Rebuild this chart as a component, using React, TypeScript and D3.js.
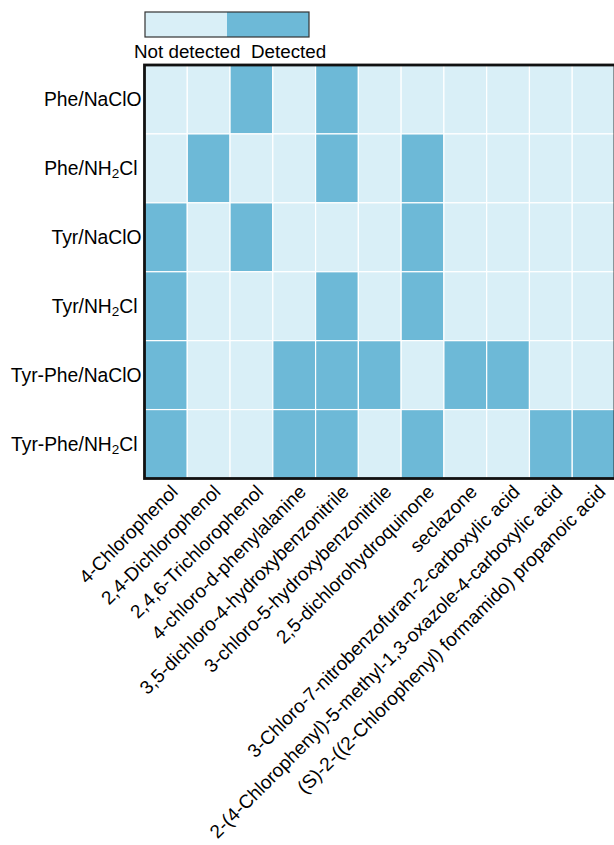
import React from "react";
import * as d3 from "d3";

const compounds: string[] = [
  "4-Chlorophenol",
  "2,4-Dichlorophenol",
  "2,4,6-Trichlorophenol",
  "4-chloro-d-phenylalanine",
  "3,5-dichloro-4-hydroxybenzonitrile",
  "3-chloro-5-hydroxybenzonitrile",
  "2,5-dichlorohydroquinone",
  "seclazone",
  "3-Chloro-7-nitrobenzofuran-2-carboxylic acid",
  "2-(4-Chlorophenyl)-5-methyl-1,3-oxazole-4-carboxylic acid",
  "(S)-2-((2-Chlorophenyl) formamido) propanoic acid",
];

const systems: string[] = [
  "Phe/NaClO",
  "Phe/NH2Cl",
  "Tyr/NaClO",
  "Tyr/NH2Cl",
  "Tyr-Phe/NaClO",
  "Tyr-Phe/NH2Cl",
];

// 1 = detected, 0 = not detected
const detection: number[][] = [
  [0, 0, 1, 0, 1, 0, 0, 0, 0, 0, 0],
  [0, 1, 0, 0, 1, 0, 1, 0, 0, 0, 0],
  [1, 0, 1, 0, 0, 0, 1, 0, 0, 0, 0],
  [1, 0, 0, 0, 1, 0, 1, 0, 0, 0, 0],
  [1, 0, 0, 1, 1, 1, 0, 1, 1, 0, 0],
  [1, 0, 0, 1, 1, 0, 1, 0, 0, 1, 1],
];

const legendLabels: string[] = ["Not detected", "Detected"];

const LIGHT = "#d9eff7";
const DARK = "#6db9d7";
const FONT = "'Liberation Sans', Arial, Helvetica, sans-serif";
const FS = 19.3;
const XFS = 19.0;
const LFS = 18.8;

function RowLabel({ label, x, y }: { label: string; x: number; y: number }) {
  const m = label.match(/^(.*NH)2(Cl)$/);
  if (m) {
    return (
      <text x={x - 4} y={y} textAnchor="end" dominantBaseline="central" fontSize={FS} fontFamily={FONT} fill="#000">
        {m[1]}
        <tspan fontSize={FS * 0.7} dy={5}>2</tspan>
        <tspan dy={-5}>{m[2]}</tspan>
      </text>
    );
  }
  return (
    <text x={x} y={y} textAnchor="end" dominantBaseline="central" fontSize={FS} fontFamily={FONT} fill="#000">
      {label}
    </text>
  );
}

export default function App() {
  const W = 614;
  const H = 845;
  const left = 144.5;
  const right = 615;
  const top = 65;
  const bottom = 478.5;

  const x = d3.scaleBand<string>().domain(compounds).range([left, right]).padding(0);
  const y = d3.scaleBand<string>().domain(systems).range([top, bottom]).padding(0);
  const color = d3.scaleOrdinal<number, string>().domain([0, 1]).range([LIGHT, DARK]);

  const legX = d3.scaleBand<string>().domain(legendLabels).range([145, 309]);
  const legendTextX = [134, 251];

  const cells: { r: number; c: number; v: number }[] = [];
  detection.forEach((row, r) => row.forEach((v, c) => cells.push({ r, c, v })));

  return (
    <svg width={W} height={H} style={{ position: "absolute", left: 0, top: 0, background: "#fff" }}>
      {/* legend */}
      {legendLabels.map((l, i) => (
        <rect key={l} x={legX(l)} y={12} width={legX.bandwidth()} height={25} fill={color(i)} />
      ))}
      <rect x={145} y={12} width={164} height={25} fill="none" stroke="#333" strokeWidth={1.2} />
      {legendLabels.map((l, i) => (
        <text key={l} x={legendTextX[i]} y={58} fontSize={LFS} fontFamily={FONT} fill="#000">
          {l}
        </text>
      ))}

      {/* cells */}
      {cells.map(({ r, c, v }) => (
        <rect
          key={`${r}-${c}`}
          x={x(compounds[c])}
          y={y(systems[r])}
          width={x.bandwidth()}
          height={y.bandwidth()}
          fill={color(v)}
          stroke="#fff"
          strokeWidth={1.2}
        />
      ))}
      <rect x={left} y={top} width={right - left} height={bottom - top} fill="none" stroke="#111" strokeWidth={2.8} />

      {/* row labels */}
      {systems.map((s) => (
        <RowLabel key={s} label={s} x={141.5} y={(y(s) as number) + y.bandwidth() / 2} />
      ))}

      {/* column labels */}
      {compounds.map((c) => {
        const cx = (x(c) as number) + x.bandwidth() / 2 + 13;
        return (
          <text
            key={c}
            transform={`translate(${cx},${493}) rotate(-45)`}
            textAnchor="end"
            fontSize={XFS}
            fontFamily={FONT}
            fill="#000"
          >
            {c}
          </text>
        );
      })}
    </svg>
  );
}
